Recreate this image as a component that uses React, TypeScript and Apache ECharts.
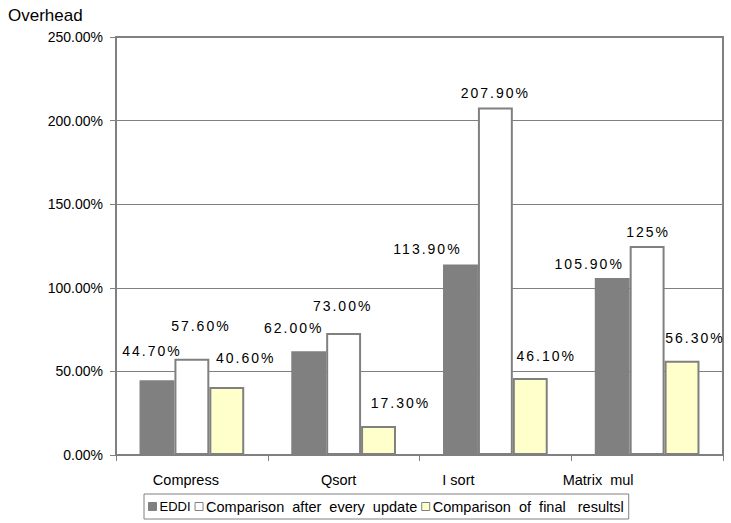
import React, { useEffect, useRef } from "react";
import * as echarts from "echarts";

// Benchmarks along the x axis
const categories = ["Compress", "Qsort", "I sort", "Matrix  mul"];

// Overhead (%) per benchmark for each checking scheme
const eddiValues = [44.7, 62.0, 113.9, 105.9];
const everyUpdateValues = [57.6, 73.0, 207.9, 125];
const finalResultValues = [40.6, 17.3, 46.1, 56.3];

// Printed value labels
const eddiLabels = ["44.70%", "62.00%", "113.90%", "105.90%"];
const everyUpdateLabels = ["57.60%", "73.00%", "207.90%", "125%"];
const finalResultLabels = ["40.60%", "17.30%", "46.10%", "56.30%"];

// Series names as shown in the legend
const seriesNames = ["EDDI", "Comparison  after  every  update", "Comparison  of  final   resultsl"];

// Y axis range
const yMin = 0;
const yMax = 250;
const yStep = 50;

// Label nudges [dx, dy] so the labels do not collide
const eddiOffsets = [[-5, -17], [-15, -11], [-33, -4], [-23, -2]];
const everyUpdateOffsets = [[9, -21], [-1, -15], [0, -2], [1, -2]];
const finalResultOffsets = [[19, -17], [22, -11], [16, -10], [13, -11]];

// Horizontal shift of each category name (positive moves it left)
const categoryShift = [12, 10, 74, 98];

// "Arimo" in the family list marks the spaced-out numeric texts (see CSS below)
const NUM_FONT = "'Liberation Sans', Arimo, sans-serif";
const FONT = "'Liberation Sans', Arial, sans-serif";
const GRAY = "#808080";

function buildData(values: number[], labels: string[], offsets: number[][]) {
  return values.map((v, i) => ({
    value: v,
    label: { formatter: labels[i], offset: offsets[i] },
  }));
}

export default function App() {
  const ref = useRef<HTMLDivElement>(null);

  useEffect(() => {
    if (!ref.current) return;
    const chart = echarts.init(ref.current, undefined, { renderer: "svg" });

    const labelBase = {
      show: true,
      position: "top" as const,
      distance: 5,
      color: "#000",
      fontSize: 14,
      fontFamily: NUM_FONT,
    };

    chart.setOption({
      animation: false,
      backgroundColor: "#fff",
      title: {
        text: "Overhead",
        left: 8,
        top: 7,
        padding: 0,
        textStyle: { fontSize: 17, fontWeight: "normal", color: "#000", fontFamily: FONT },
      },
      grid: {
        left: 116,
        right: 8,
        top: 37,
        bottom: 68,
        show: true,
        borderColor: GRAY,
        borderWidth: 2,
        backgroundColor: "transparent",
      },
      legend: {
        left: 144,
        top: 494,
        padding: [5, 5, 5, 4],
        borderColor: GRAY,
        borderWidth: 1,
        itemWidth: 8,
        itemHeight: 8,
        itemGap: 4,
        icon: "rect",
        itemStyle: { borderWidth: 1 },
        textStyle: { fontSize: 14.5, color: "#000", fontFamily: FONT, padding: [0, 0, 0, -2] },
        data: [
          { name: seriesNames[0], textStyle: { fontSize: 13 } },
          { name: seriesNames[1], textStyle: { width: 214 } },
          { name: seriesNames[2], textStyle: { width: 218 } },
        ],
      },
      xAxis: {
        type: "category",
        data: categories.map((c, i) => ({
          value: c,
          textStyle: { padding: [0, categoryShift[i], 0, 0] },
        })),
        axisLine: { lineStyle: { color: GRAY, width: 2 } },
        axisTick: { show: true, length: 6, lineStyle: { color: GRAY, width: 1 } },
        axisLabel: { color: "#000", fontSize: 14.5, fontFamily: FONT, margin: 17 },
        splitLine: { show: false },
      },
      yAxis: {
        type: "value",
        min: yMin,
        max: yMax,
        interval: yStep,
        axisLine: { show: true, lineStyle: { color: GRAY, width: 2 } },
        axisTick: { show: true, length: 6, lineStyle: { color: GRAY, width: 1 } },
        axisLabel: {
          color: "#000",
          fontSize: 14,
          fontFamily: FONT,
          margin: 13,
          formatter: (v: number) => v.toFixed(2) + "%",
        },
        splitLine: { show: true, lineStyle: { color: GRAY, width: 1 } },
      },
      series: [
        {
          name: seriesNames[0],
          type: "bar",
          barGap: "0%",
          barCategoryGap: "31%",
          itemStyle: { color: GRAY, borderColor: GRAY, borderWidth: 1.5 },
          label: labelBase,
          data: buildData(eddiValues, eddiLabels, eddiOffsets),
        },
        {
          name: seriesNames[1],
          type: "bar",
          barGap: "0%",
          barCategoryGap: "31%",
          itemStyle: { color: "#ffffff", borderColor: GRAY, borderWidth: 2 },
          label: labelBase,
          data: buildData(everyUpdateValues, everyUpdateLabels, everyUpdateOffsets),
        },
        {
          name: seriesNames[2],
          type: "bar",
          barGap: "0%",
          barCategoryGap: "31%",
          itemStyle: { color: "#ffffcc", borderColor: GRAY, borderWidth: 2 },
          label: labelBase,
          data: buildData(finalResultValues, finalResultLabels, finalResultOffsets),
        },
      ],
    });

    return () => chart.dispose();
  }, []);

  return (
    <>
      <style>{`.overhead-chart text[style*="Arimo"] { letter-spacing: 2px; }`}</style>
      <div
        ref={ref}
        className="overhead-chart"
        style={{ position: "fixed", left: 0, top: 0, width: 731, height: 523 }}
      />
    </>
  );
}
